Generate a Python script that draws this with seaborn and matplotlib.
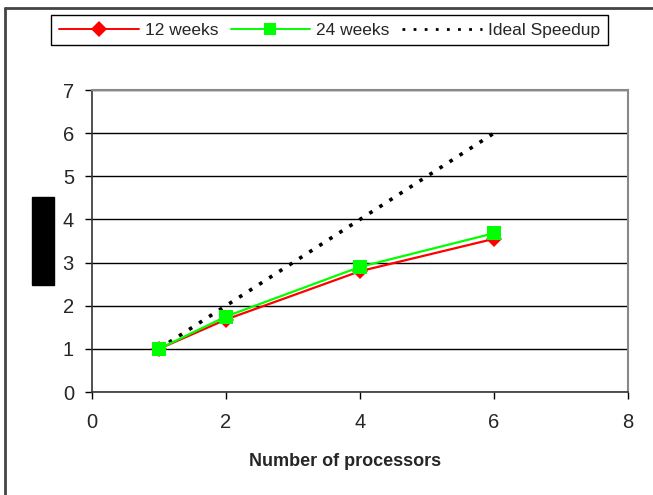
import seaborn as sns
import matplotlib.pyplot as plt
import matplotlib.patches as mpatches
import matplotlib.lines as mlines
import pandas as pd

# Данные графика
processors = [1, 2, 4, 6]
speed_12 = [1.0, 1.68, 2.8, 3.55]
speed_24 = [1.0, 1.75, 2.9, 3.68]
ideal = [1, 2, 4, 6]
series_names = ['12 weeks', '24 weeks', 'Ideal Speedup']
x_ticks = [0, 2, 4, 6, 8]
y_ticks = [0, 1, 2, 3, 4, 5, 6, 7]

sns.set_style('white')
plt.rcParams['font.family'] = ['Liberation Sans', 'DejaVu Sans']

fig = plt.figure(figsize=(6.53, 4.95), dpi=100)
ax = fig.add_axes([92 / 653, 1 - 392 / 495, 536 / 653, 302 / 495])

df = pd.DataFrame({'x': processors, 's12': speed_12, 's24': speed_24, 'ideal': ideal})

sns.lineplot(data=df, x='x', y='ideal', ax=ax, color='black', lw=2.6,
             linestyle=(0, (1, 2.3)), label=series_names[2], legend=False, zorder=2)
sns.lineplot(data=df, x='x', y='s12', ax=ax, color='#ff0000', lw=1.6, marker='D',
             markersize=8.5, markeredgewidth=0, label=series_names[0], legend=False, zorder=3)
sns.lineplot(data=df, x='x', y='s24', ax=ax, color='#00ff00', lw=1.6, marker='s',
             markersize=9.5, markeredgewidth=0, label=series_names[1], legend=False, zorder=4)

ax.set_xlim(0, 8)
ax.set_ylim(0, 7)
ax.set_xticks(x_ticks)
ax.set_yticks(y_ticks)
ax.yaxis.grid(True, color='black', lw=1)
ax.set_axisbelow(True)
ax.set_xlabel('')
ax.set_ylabel('')
ax.tick_params(axis='both', direction='out', length=5, width=1, color='black',
               labelsize=14.5, left=True, bottom=True)
ax.tick_params(axis='x', pad=10)
ax.tick_params(axis='y', pad=8)
for side in ['left', 'bottom']:
    ax.spines[side].set_color('#333333')
    ax.spines[side].set_linewidth(1.2)
for side in ['top', 'right']:
    ax.spines[side].set_color('#888888')
    ax.spines[side].set_linewidth(1.5)

fig.text(345 / 653, 1 - 462 / 495, 'Number of processors', ha='center', va='center',
         fontsize=13, fontweight='bold')

# Закрытая подпись оси Y
fig.patches.append(mpatches.Rectangle((32 / 653, 1 - 285 / 495), 22 / 653, 88 / 495,
                                      transform=fig.transFigure, color='black'))

# Рамка рисунка (верх и лево)
fig.add_artist(mlines.Line2D([5 / 653, 5 / 653], [0, 1 - 8 / 495], color='#444444', lw=2,
                             transform=fig.transFigure))
fig.add_artist(mlines.Line2D([5 / 653, 1], [1 - 8 / 495, 1 - 8 / 495], color='#444444', lw=2,
                             transform=fig.transFigure))

h12 = mlines.Line2D([], [], color='#ff0000', lw=1.4, marker='D', markersize=8.5, markeredgewidth=0)
h24 = mlines.Line2D([], [], color='#00ff00', lw=1.4, marker='s', markersize=9, markeredgewidth=0)
hid = mlines.Line2D([], [], color='black', lw=2, linestyle=(0, (1, 3)))
leg = fig.legend([h12, h24, hid], series_names, loc='center',
                 bbox_to_anchor=(329.5 / 653, 1 - 30 / 495), ncol=3, fontsize=12.5,
                 handlelength=4.6, columnspacing=0.7, handletextpad=0.35,
                 fancybox=False, framealpha=1, edgecolor='black', borderpad=0.45)
leg.get_frame().set_linewidth(1)

fig.savefig('out.png', dpi=100)
